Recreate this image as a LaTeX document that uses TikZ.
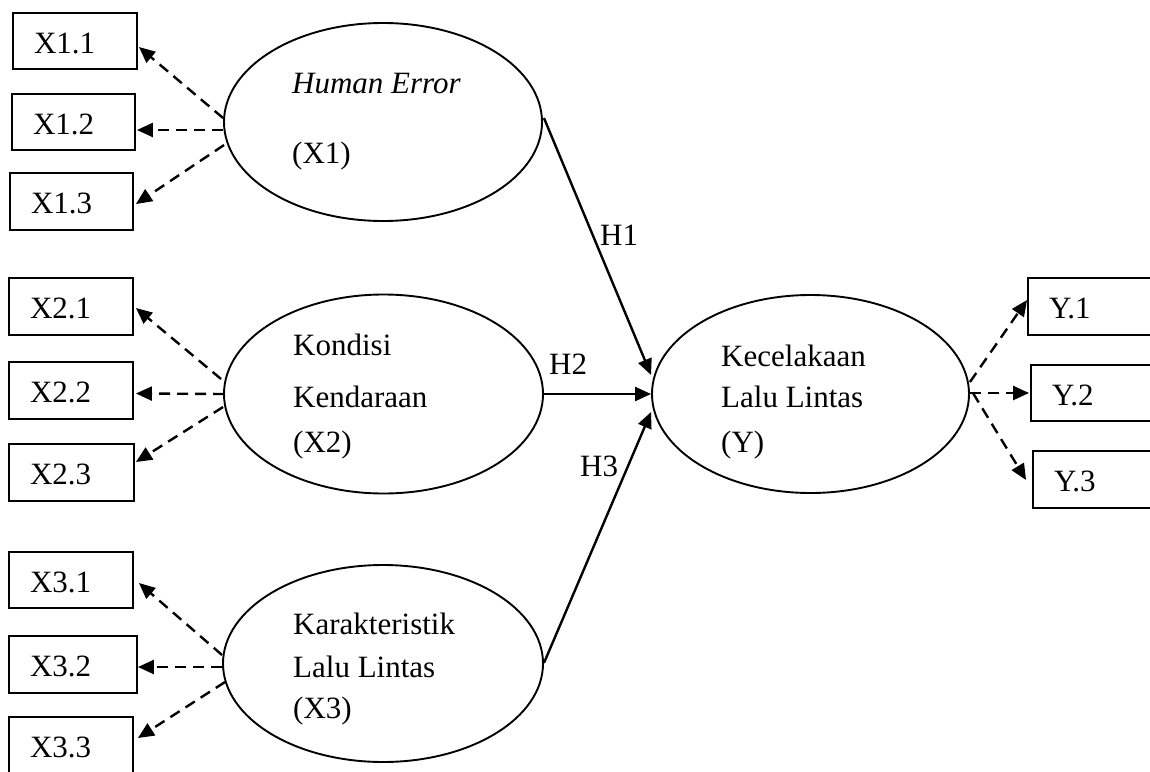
\documentclass[tikz,border=0pt]{standalone}
\usepackage{fontspec}
\setmainfont{Liberation Serif}
\usetikzlibrary{arrows.meta,shapes.geometric,calc}
\begin{document}
\begin{tikzpicture}[x=1pt,y=-1pt,
  font=\fontsize{31}{37}\selectfont,
  lat/.style={draw,ellipse,line width=1.9pt,inner sep=0pt},
  ind/.style={draw,rectangle,line width=1.9pt,inner xsep=21pt,inner ysep=0pt,
    minimum height=56.5pt,text height=28pt,text depth=4pt,align=left,text width=#1},
  lbl/.style={anchor=base west,inner sep=0pt},
  tip/.style={-{Triangle[length=16pt,width=14pt]}},
  load/.style={tip,line width=2.4pt,dash pattern=on 11pt off 7pt},
  path/.style={tip,line width=2.4pt}]
\useasboundingbox (0,0) rectangle (1150,771);
\clip (0,0) rectangle (1150,771);
% latent variables
\node[lat,minimum width=318pt,minimum height=198pt] (E1) at (383,122) {};
\node[lat,minimum width=319pt,minimum height=199pt] (E2) at (383.5,394) {};
\node[lat,minimum width=320pt,minimum height=197pt] (E3) at (383,663.5) {};
\node[lat,minimum width=317pt,minimum height=198pt] (EY) at (810.5,394) {};
\node[lbl] (t11) at (292,93) {\textit{Human Error}};
\node[lbl] (t12) at (292,163) {(X1)};
\node[lbl] (t21) at (293,355) {Kondisi};
\node[lbl] (t22) at (293,407) {Kendaraan};
\node[lbl] (t23) at (293,452) {(X2)};
\node[lbl] (t31) at (293,634) {Karakteristik};
\node[lbl] (t32) at (293,677) {Lalu Lintas};
\node[lbl] (t33) at (293,718) {(X3)};
\node[lbl] (ty1) at (721,366) {Kecelakaan};
\node[lbl] (ty2) at (721,407) {Lalu Lintas};
\node[lbl] (ty3) at (721,452) {(Y)};
% indicators
\node[ind=82pt] (X11) at (75,41) {X1.1};
\node[ind=81pt] (X12) at (73.5,122) {X1.2};
\node[ind=81pt] (X13) at (71.5,201.5) {X1.3};
\node[ind=82pt] (X21) at (71,306.5) {X2.1};
\node[ind=82pt] (X22) at (71,390.5) {X2.2};
\node[ind=83pt] (X23) at (71.5,472.5) {X2.3};
\node[ind=82pt] (X31) at (71,580) {X3.1};
\node[ind=86pt] (X32) at (73,664.5) {X3.2};
\node[ind=82pt] (X33) at (71,745.5) {X3.3};
\node[ind=90pt] (Y1) at (1094,306.5) {Y.1};
\node[ind=87pt] (Y2) at (1095.5,393) {Y.2};
\node[ind=85pt] (Y3) at (1096.5,479.5) {Y.3};
% loadings
\draw[load] ($(E1.west)+(0,-4)$) -- ($(X11.east)+(1,6)$);
\draw[load] ($(E1.west)+(0,8)$) -- ($(X12.east)+(1,8)$);
\draw[load] ($(E1.west)+(1,23)$) -- ($(X13.east)+(2,2.5)$);
\draw[load] ($(E2.west)+(-2,-15)$) -- ($(X21.east)+(2,1.5)$);
\draw[load] ($(E2.west)+(1,0)$) -- ($(X22.east)+(2,3)$);
\draw[load] ($(E2.west)+(0,13)$) -- ($(X23.east)+(1,-10.5)$);
\draw[load] ($(E3.west)+(0,-8.5)$) -- ($(X31.east)+(5,3)$);
\draw[load] ($(E3.west)+(0,3.5)$) -- ($(X32.east)+(0,2.5)$);
\draw[load] ($(E3.west)+(3,18.5)$) -- ($(X33.east)+(4,-7.5)$);
\draw[load] ($(EY.east)+(0,-12)$) -- ($(Y1.west)+(0,-6.5)$);
\draw[load] ($(EY.east)+(0,-1)$) -- ($(Y2.west)+(-1,0)$);
\draw[load] ($(EY.east)+(3,-1)$) -- ($(Y3.west)+(-6,0.5)$);
% structural paths
\draw[path] ($(E1.east)+(1,-4)$) -- ($(EY.west)+(0,-19)$);
\draw[path] (E2.east) -- (EY.west);
\draw[path] ($(E3.east)+(0,-0.5)$) -- ($(EY.west)+(0,18)$);
\node[lbl] (h1) at (600,245) {H1};
\node[lbl] (h2) at (549,374) {H2};
\node[lbl] (h3) at (580,476) {H3};
\end{tikzpicture}
\end{document}
